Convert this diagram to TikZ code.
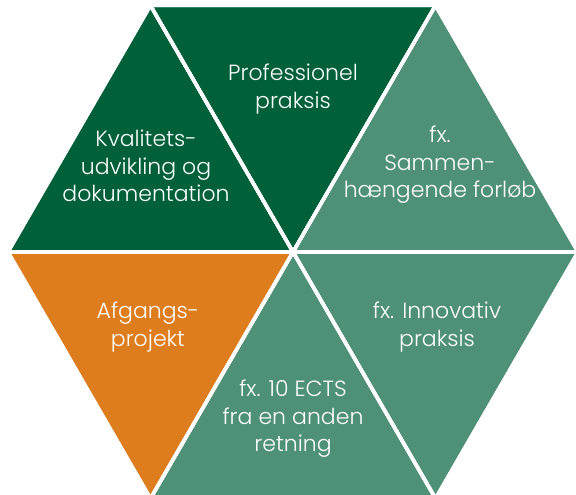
\documentclass[tikz,border=0pt]{standalone}
\usepackage{fontspec}
\setmainfont{Poppins Light}
\usepackage{xcolor}
\usepackage{tikz}
\definecolor{moerkgroen}{RGB}{0,96,58}
\definecolor{lysgroen}{RGB}{78,145,118}
\definecolor{orange}{RGB}{222,125,30}

\begin{document}
\begin{tikzpicture}[
  x=1pt,y=-1pt,
  felt/.style={draw=white,line width=3.5pt,line join=round},
  tekst/.style={text=white,align=center,font=\fontsize{22}{27.5}\selectfont}
]
\useasboundingbox (0,0) rectangle (576,495);
\coordinate (C) at (293,252);
\coordinate (E) at (578,252);
\coordinate (NE) at (435.5,5.5);
\coordinate (NW) at (150.5,5.5);
\coordinate (W) at (8,252);
\coordinate (SW) at (150.5,498.5);
\coordinate (SE) at (435.5,498.5);

\fill[felt,fill=moerkgroen] (NW) -- (W) -- (C) -- cycle;
\fill[felt,fill=moerkgroen] (NW) -- (NE) -- (C) -- cycle;
\fill[felt,fill=lysgroen] (NE) -- (C) -- (E) -- cycle;
\fill[felt,fill=lysgroen] (C) -- (E) -- (SE) -- cycle;
\fill[felt,fill=lysgroen] (C) -- (SE) -- (SW) -- cycle;
\fill[felt,fill=orange] (C) -- (SW) -- (W) -- cycle;
\draw[felt] (NW) -- (W) -- (C) -- cycle;
\draw[felt] (NW) -- (NE) -- (C) -- cycle;
\draw[felt] (NE) -- (C) -- (E) -- cycle;
\draw[felt] (C) -- (E) -- (SE) -- cycle;
\draw[felt] (C) -- (SE) -- (SW) -- cycle;
\draw[felt] (C) -- (SW) -- (W) -- cycle;

\node[tekst] (kval) at (146,166) {Kvalitets-\\udvikling og\\dokumentation};
\node[tekst] (prof) at (293,89) {Professionel\\praksis};
\node[tekst] (samm) at (440,165) {fx.\\Sammen-\\hængende forløb};
\node[tekst] (afg) at (148,327) {Afgangs-\\projekt};
\node[tekst] (innov) at (437,327) {fx. Innovativ\\praksis};
\node[tekst] (ects) at (293,419) {fx. 10 ECTS\\fra en anden\\retning};
\end{tikzpicture}
\end{document}
